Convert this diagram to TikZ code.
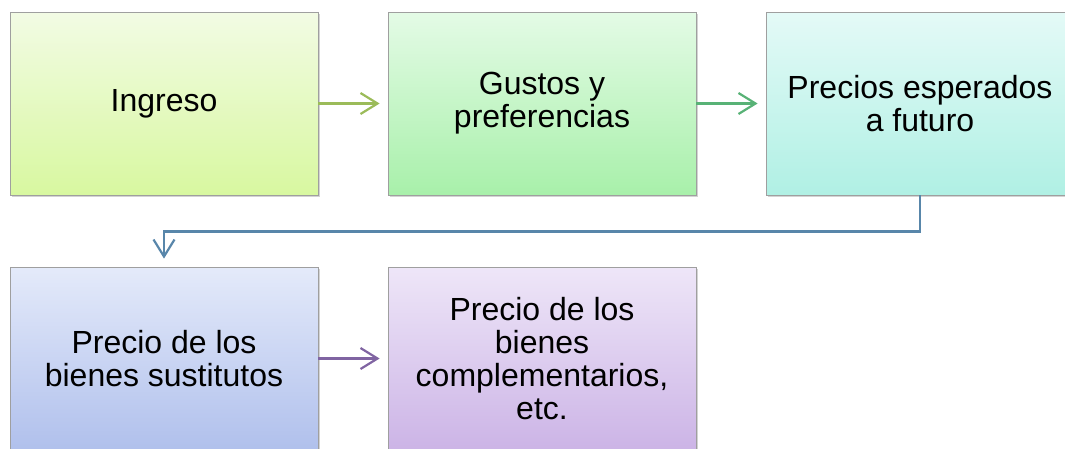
\documentclass[tikz,border=0pt]{standalone}
\usepackage{fontspec}
\setmainfont{Liberation Sans}
\usetikzlibrary{arrows.meta,shadows}

\definecolor{verdeA}{RGB}{155,187,89}
\definecolor{verdeB}{RGB}{88,178,118}
\definecolor{azulC}{RGB}{88,134,170}
\definecolor{moradoD}{RGB}{128,100,162}

\begin{document}
\begin{tikzpicture}[x=1pt, y=1pt,
    caja/.style={draw=gray!75, line width=0.8pt, minimum width=308pt, minimum height=183pt,
        inner sep=0pt, align=center, font=\fontsize{32}{33}\selectfont,
        drop shadow={shadow xshift=1.5pt, shadow yshift=-2pt, opacity=0.35, fill=gray}},
    flecha/.style={line width=2.2pt, -{Straight Barb[length=17pt, width=21pt, line width=2.2pt]}, shorten >=8pt}]
        % Area of the picture
        \useasboundingbox (0, 0) rectangle (1065, -448);
        \clip (0, 0) rectangle (1065, -448);

        % First row
        \node[caja, top color={rgb,255:red,242;green,251;blue,228}, bottom color={rgb,255:red,216;green,248;blue,160}]
            (ingreso) at (164, -103.5) {\raisebox{-3pt}{Ingreso}};
        \node[caja, top color={rgb,255:red,228;green,251;blue,230}, bottom color={rgb,255:red,168;green,240;blue,170}]
            (gustos) at (542, -103.5) {\raisebox{-3pt}{Gustos y}\\\raisebox{-3pt}{preferencias}};
        \node[caja, top color={rgb,255:red,228;green,250;blue,247}, bottom color={rgb,255:red,176;green,240;blue,228}]
            (precios) at (920, -103.5) {\raisebox{-3pt}{Precios esperados}\\\raisebox{-3pt}{a futuro}};

        % Second row
        \node[caja, top color={rgb,255:red,228;green,234;blue,250}, bottom color={rgb,255:red,176;green,192;blue,236}]
            (sustitutos) at (164, -358.5) {Precio de los\\bienes sustitutos};
        \node[caja, top color={rgb,255:red,238;green,230;blue,248}, bottom color={rgb,255:red,204;green,180;blue,230}]
            (complementarios) at (542, -358.5) {Precio de los\\bienes\\complementarios,\\etc.};

        % Arrows
        \draw[flecha, verdeA] (ingreso) -- (gustos);
        \draw[flecha, verdeB] (gustos) -- (precios);
        \draw[flecha, azulC, line width=2.5pt] (precios.south) -- ++(0, -36) -| (sustitutos.north);
        \draw[flecha, moradoD] (sustitutos) -- (complementarios);
    \end{tikzpicture}
\end{document}
